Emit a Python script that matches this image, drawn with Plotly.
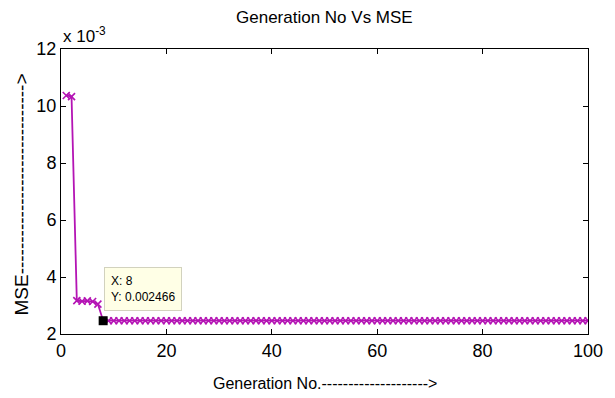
import plotly.graph_objects as go

generation = list(range(1, 101))
mse_head = [0.01037, 0.01033, 0.00317, 0.00315, 0.00316, 0.00314, 0.00305]
mse_tail = [0.002466] * 93
mse = mse_head + mse_tail

tip_x = 8
tip_y = 0.002466

ytick_vals = [0.002, 0.004, 0.006, 0.008, 0.010, 0.012]
ytick_text = ["2", "4", "6", "8", "10", "12"]
xtick_vals = [0, 20, 40, 60, 80, 100]

FONT = "Liberation Sans, Arial, sans-serif"

fig = go.Figure()
fig.add_trace(go.Scatter(
    x=generation, y=mse, mode="lines+markers",
    line=dict(color="#b414b4", width=1.8),
    marker=dict(symbol="x-thin", size=7, line=dict(color="#b414b4", width=1.6)),
    showlegend=False, hoverinfo="skip"))
fig.add_trace(go.Scatter(
    x=[tip_x], y=[tip_y], mode="markers",
    marker=dict(symbol="square", size=9, color="black"),
    showlegend=False, hoverinfo="skip"))

axis_common = dict(
    showgrid=False, zeroline=False, showline=True, linecolor="black", linewidth=1,
    mirror="ticks", ticks="inside", ticklen=5, tickcolor="black",
    tickfont=dict(family=FONT, size=18, color="black"))

fig.update_xaxes(range=[0, 100], tickvals=xtick_vals, **axis_common)
fig.update_yaxes(range=[0.002, 0.012], tickvals=ytick_vals, ticktext=ytick_text, **axis_common)

fig.update_layout(
    width=615, height=398,
    margin=dict(l=61, r=27, t=49, b=64),
    paper_bgcolor="white", plot_bgcolor="white",
    font=dict(family=FONT, color="black"),
    annotations=[
        dict(text="Generation No Vs MSE", x=0.5, y=1.0, xref="paper", yref="paper",
             xanchor="center", yanchor="bottom", yshift=20, showarrow=False,
             font=dict(family=FONT, size=17)),
        dict(text="Generation No." + "-" * 20 + ">", x=0.5, y=-0.172, xref="paper", yref="paper",
             xanchor="center", yanchor="middle", showarrow=False, font=dict(family=FONT, size=16)),
        dict(text="MSE" + "-" * 30 + ">", x=-0.075, y=0.491, xref="paper", yref="paper",
             textangle=-90, xanchor="center", yanchor="middle", showarrow=False,
             font=dict(family=FONT, size=19)),
        dict(text="x 10<sup>-3</sup>", x=0.0, y=1.0, xref="paper", yref="paper",
             xanchor="left", yanchor="bottom", yshift=1, showarrow=False,
             font=dict(family=FONT, size=17)),
        dict(text="X: 8<br>Y: 0.002466", x=tip_x, y=tip_y, xref="x", yref="y",
             xanchor="left", yanchor="bottom", xshift=1, yshift=10, align="left",
             showarrow=False, bgcolor="#ffffe6", bordercolor="#d2d2be", borderwidth=1,
             borderpad=6, font=dict(family=FONT, size=12)),
    ])

fig.write_html("out.html")
